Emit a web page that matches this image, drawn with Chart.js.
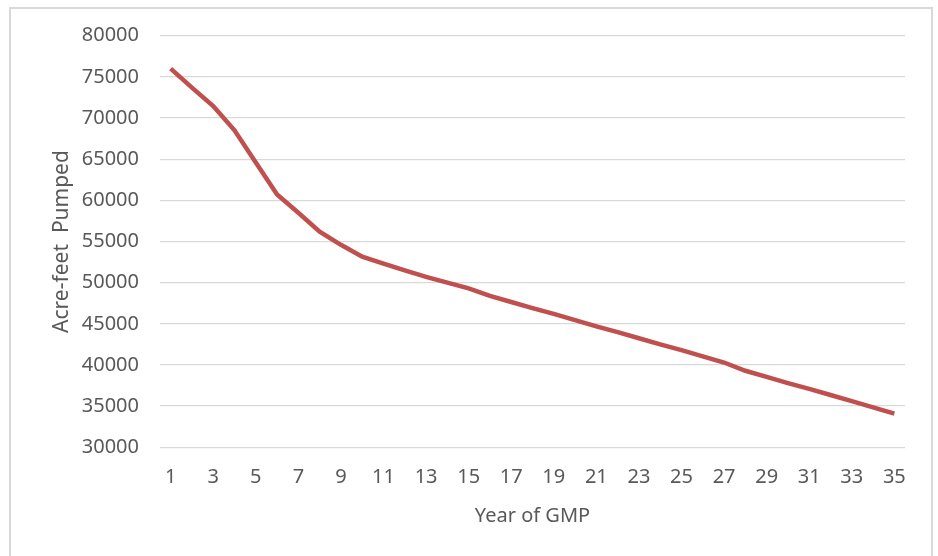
<!DOCTYPE html>
<html>
<head>
<meta charset="utf-8">
<script src="https://cdn.jsdelivr.net/npm/chart.js@4"></script>
<style>
  html, body { margin: 0; padding: 0; background: #ffffff; }
  #wrap { position: relative; width: 938px; height: 556px; overflow: hidden; }
  #frame {
    position: absolute; left: 9px; top: 7px; width: 924px; height: 570px;
    border: 2px solid #d9d9d9; box-sizing: border-box;
  }
  canvas { position: absolute; left: 0; top: 0; }
</style>
</head>
<body>
<div id="wrap">
  <div id="frame"></div>
  <canvas id="c" width="938" height="556"></canvas>
</div>
<script>
// year of the plan (x axis)
const years = [1, 2, 3, 4, 5, 6, 7, 8, 9, 10, 11, 12, 13, 14, 15, 16, 17, 18,
  19, 20, 21, 22, 23, 24, 25, 26, 27, 28, 29, 30, 31, 32, 33, 34, 35];

// acre-feet pumped
const pumped = [76000, 73700, 71450, 68500, 64600, 60700, 58500, 56200, 54600,
  53150, 52300, 51500, 50700, 50000, 49300, 48400, 47650, 46900, 46200, 45450,
  44700, 44000, 43250, 42500, 41800, 41050, 40300, 39300, 38550, 37800, 37100,
  36350, 35600, 34850, 34100];

const yMin = 30000;
const yMax = 80000;
const yStep = 5000;

const TEXT = "#595959";
const GRID = "#d9d9d9";
const LINE = "#c0504d";
const FONT = "'Noto Sans', 'Open Sans', sans-serif";

new Chart(document.getElementById("c"), {
  type: "line",
  data: {
    labels: years,
    datasets: [{
      data: pumped,
      borderColor: LINE,
      borderWidth: 4.5,
      pointRadius: 0,
      tension: 0,
      fill: false,
    }],
  },
  options: {
    responsive: false,
    animation: false,
    layout: { padding: { left: 0, right: 33, top: 35.7, bottom: 0 } },
    plugins: { legend: { display: false }, tooltip: { enabled: false } },
    scales: {
      x: {
        type: "category",
        offset: true,
        grid: { display: false, drawTicks: false },
        border: { display: false },
        ticks: {
          autoSkip: false,
          maxRotation: 0,
          padding: 18,
          color: TEXT,
          font: { family: FONT, size: 20 },
          callback: function (v, i) { return i % 2 === 0 ? this.getLabelForValue(v) : ""; },
        },
        title: {
          display: true,
          text: "Year of GMP",
          color: TEXT,
          font: { family: FONT, size: 20 },
          padding: { top: 0, bottom: 28 },
        },
        afterFit: (s) => { s.height = 108.7; },
      },
      y: {
        min: yMin,
        max: yMax,
        grid: { color: GRID, lineWidth: 1.3, drawTicks: false },
        border: { display: false },
        ticks: {
          stepSize: yStep,
          padding: 21,
          color: TEXT,
          font: { family: FONT, size: 20 },
          callback: (v) => String(v),
        },
        title: {
          display: true,
          text: "Acre-feet  Pumped",
          color: TEXT,
          font: { family: FONT, size: 21 },
          padding: { top: 49, bottom: 0 },
        },
        afterFit: (s) => { s.width = 160; },
      },
    },
  },
});
</script>
</body>
</html>
